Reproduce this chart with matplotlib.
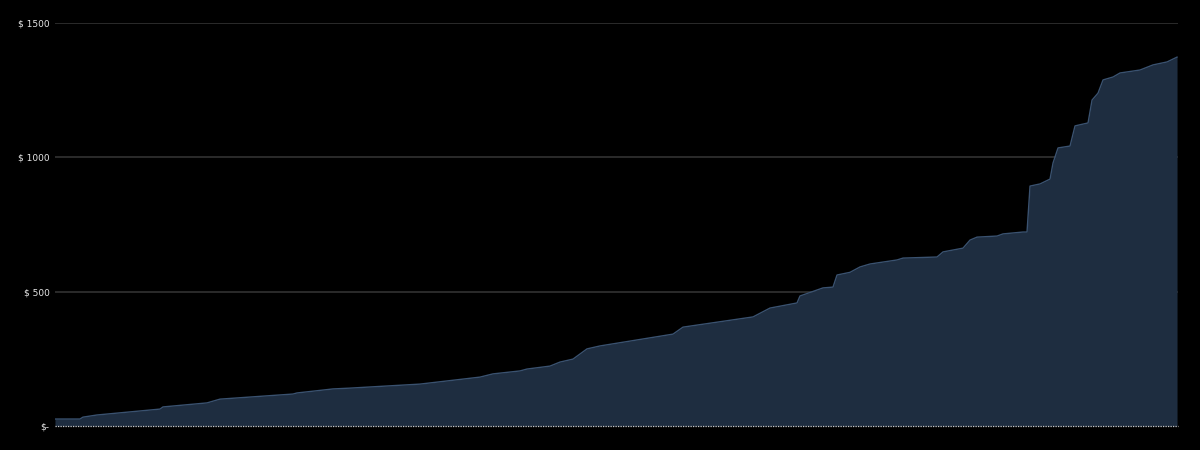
import matplotlib
matplotlib.use("Agg")
import numpy as np
from matplotlib import pyplot as plt
from matplotlib.ticker import FuncFormatter

# entry position along the x axis and running total in dollars
entry = [0, 25, 28, 42, 105, 108, 152, 165, 238, 242, 278, 295, 365, 425,
         438, 465, 472, 495, 505, 518, 532, 545, 618, 628, 698, 715, 742,
         745, 768, 778, 782, 795, 805, 815, 842, 848, 882, 888, 908, 915,
         922, 942, 948, 968, 972, 975, 985, 995, 998, 1003, 1015, 1020,
         1033, 1037, 1043, 1048, 1058, 1065, 1085, 1098, 1112, 1122]
total = [26, 26, 33, 41, 63, 71, 86, 100, 119, 123, 138, 141, 156, 182,
         194, 205, 212, 223, 238, 249, 287, 298, 342, 368, 406, 439, 458,
         484, 514, 517, 562, 572, 592, 603, 618, 625, 629, 648, 662, 692,
         703, 707, 715, 722, 722, 893, 901, 919, 979, 1035, 1042, 1117,
         1128, 1213, 1239, 1288, 1299, 1314, 1325, 1344, 1355, 1373]
y_ticks = [0, 500, 1000, 1500]


def dollars(v, pos):
    if v == 0:
        return "$-"
    return "$ %d" % v


fig = plt.figure(figsize=(12, 4.5), dpi=100, facecolor="black")
ax = fig.add_axes([0.0458, 0.0533, 0.9359, 0.8956])
ax.set_facecolor("black")

for t in y_ticks[1:]:
    ax.axhline(t, color="#363636", linewidth=1.1, zorder=1)

ax.fill_between(entry, total, 0, color="#1e2d40", linewidth=0, zorder=2)
ax.plot(entry, total, color="#3a5270", linewidth=1.0, zorder=3)
ax.axhline(0, color="#c8c8c8", linewidth=0.9, linestyle=(0, (1, 1)),
           zorder=4, clip_on=False)

ax.set_xlim(0, 1123)
ax.set_ylim(0, 1500)
ax.set_yticks(y_ticks)
ax.yaxis.set_major_formatter(FuncFormatter(dollars))
ax.set_xticks([])
ax.tick_params(axis="y", length=0, pad=4, labelsize=6.5, labelcolor="#e6e6e6")
for side in ax.spines.values():
    side.set_visible(False)

plt.savefig("out.png", dpi=100, facecolor="black")
